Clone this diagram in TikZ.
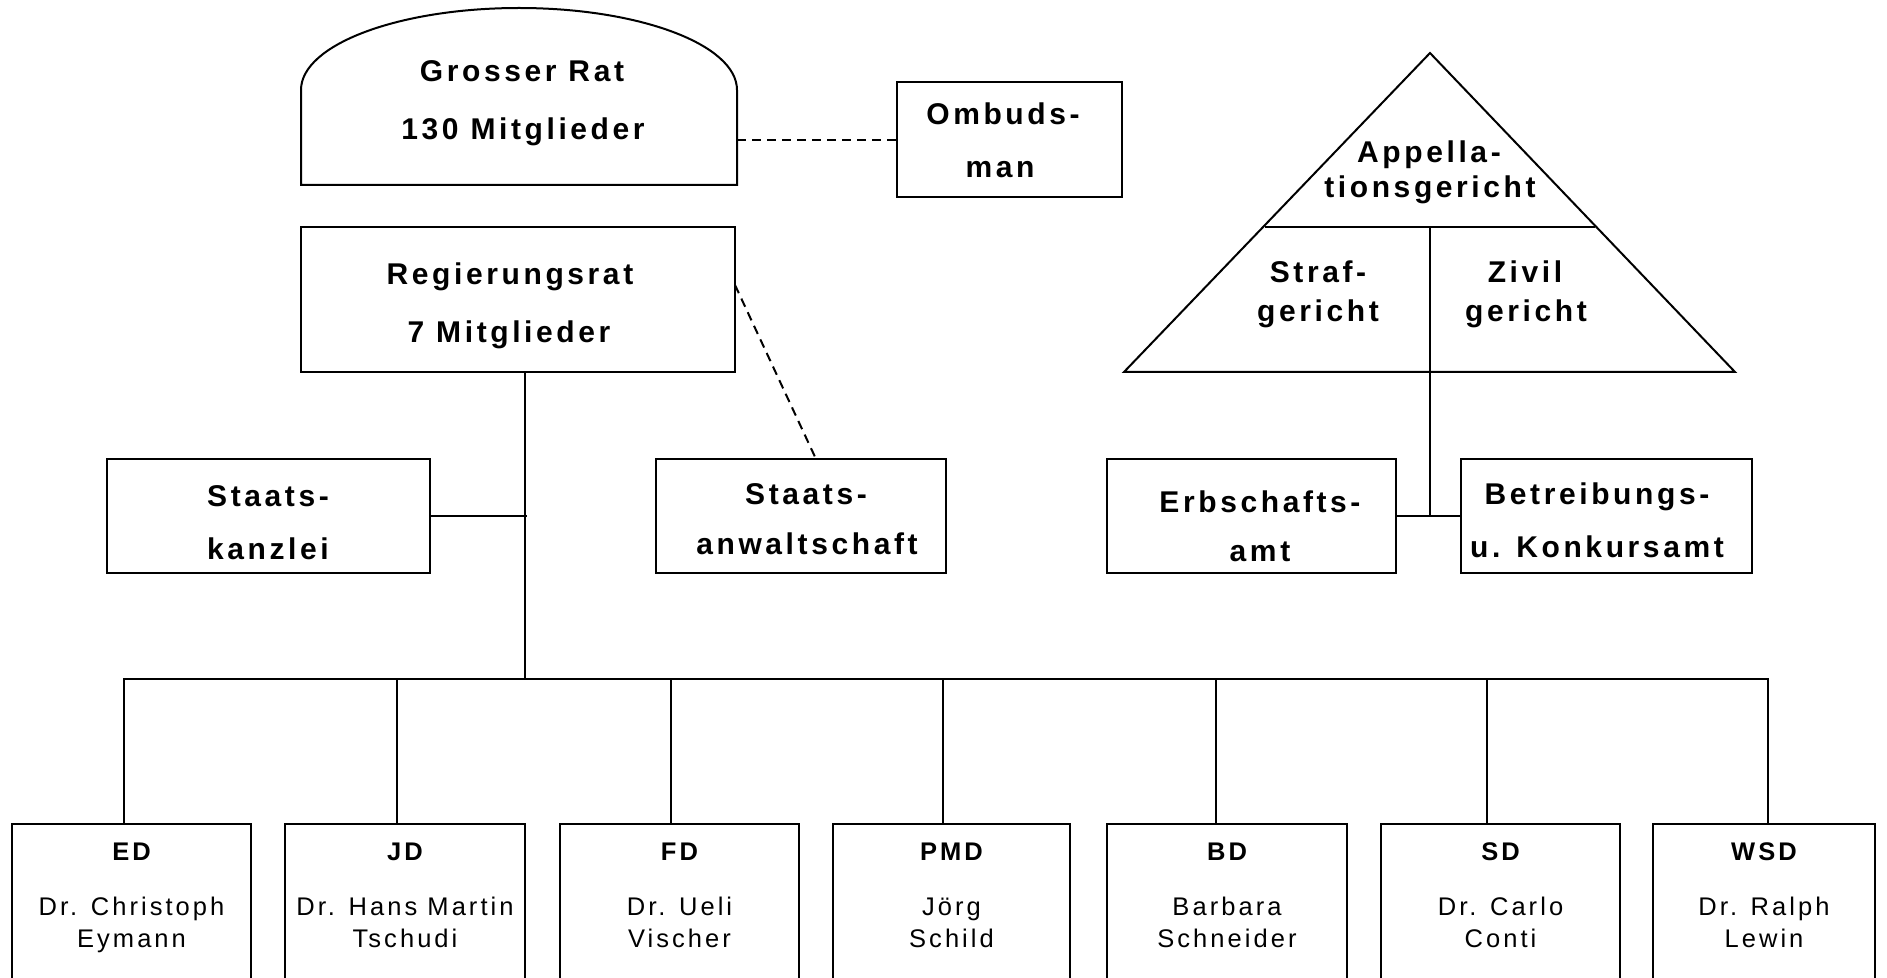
\documentclass[tikz,border=0pt]{standalone}
\usepackage{fontspec}
\setmainfont[LetterSpace=12]{Liberation Sans}
\begin{document}
\begin{tikzpicture}[x=0.5pt, y=-0.5pt,
  conn/.style={line width=1pt},
  dashln/.style={line width=1pt, dash pattern=on 4.5pt off 3pt},
  boxed/.style={draw, line width=1pt, inner sep=0pt},
  bigtxt/.style={font=\fontsize{15}{18}\selectfont\bfseries, inner sep=0pt, anchor=base},
  headtxt/.style={font=\fontsize{12.75}{15}\selectfont\bfseries, inner sep=0pt, anchor=base},
  nametxt/.style={font=\fontsize{12.75}{15}\selectfont, inner sep=0pt, anchor=base}]
\useasboundingbox (0,0) rectangle (1887,978);
\clip (0,0) rectangle (1887,978);

% Grosser Rat (arched shape)
\draw[conn] (301,185) -- (301,90) .. controls (301,44.7) and (398.6,8) .. (519,8)
  .. controls (639.4,8) and (737,44.7) .. (737,90) -- (737,185) -- cycle;
\coordinate (gr-east) at (737,140);
\node[bigtxt] (gr1) at (522,82) {Grosser Rat};
\node[bigtxt] (gr2) at (523,140) {130 Mitglieder};

% Ombudsman
\node[boxed, minimum width=112.5pt, minimum height=57.5pt] (ombud) at (1009.5,139.5) {};
\node[bigtxt] (om1) at (1003,125) {Ombuds-};
\node[bigtxt] (om2) at (1000,178) {man};
\draw[dashln] (gr-east) -- (gr-east -| ombud.west);

% Regierungsrat
\node[boxed, minimum width=217pt, minimum height=72.5pt] (regrat) at (518,299.5) {};
\node[bigtxt] (rr1) at (510,285) {Regierungsrat};
\node[bigtxt] (rr2) at (509,343) {7 Mitglieder};

% Staatskanzlei
\node[boxed, minimum width=161.5pt, minimum height=57pt] (kanzlei) at (268.5,516) {};
\node[bigtxt] (sk1) at (268,507) {Staats-};
\node[bigtxt] (sk2) at (268,560) {kanzlei};

% Staatsanwaltschaft
\node[boxed, minimum width=145pt, minimum height=57pt] (anwalt) at (801,516) {};
\node[bigtxt] (sa1) at (806,505) {Staats-};
\node[bigtxt] (sa2) at (807,555) {anwaltschaft};

% connectors Regierungsrat
\coordinate (rv-top) at (525,372);
\coordinate (rv-bot) at (525,679);
\coordinate (rv-mid) at (527,516);
\draw[conn] (rv-top) -- (rv-bot);
\draw[conn] (kanzlei.east) -- (rv-mid);
\coordinate (rd1) at (735,285);
\coordinate (rd2) at (816,459);
\draw[dashln] (rd1) -- (rd2);

% Triangle (courts)
\coordinate (apex) at (1430,53);
\coordinate (tl) at (1124,372);
\coordinate (tr) at (1735,372);
\draw[conn] (apex) -- (tl) -- (tr) -- cycle;
\coordinate (divl) at (1265,227);
\coordinate (divr) at (1595,227);
\coordinate (divm) at (1430,227);
\draw[conn] (divl) -- (divr);
\node[bigtxt] (ap1) at (1429,163) {Appella-};
\node[bigtxt] (ap2) at (1430,198) {tionsgericht};
\node[bigtxt] (sg1) at (1318,283) {Straf-};
\node[bigtxt] (sg2) at (1318,322) {gericht};
\node[bigtxt] (zg1) at (1525,283) {Zivil};
\node[bigtxt] (zg2) at (1526,322) {gericht};

% Erbschaftsamt and Betreibungsamt
\node[boxed, minimum width=144.5pt, minimum height=57pt] (erb) at (1251.5,516) {};
\node[bigtxt] (eb1) at (1260,513) {Erbschafts-};
\node[bigtxt] (eb2) at (1260,562) {amt};
\node[boxed, minimum width=145.5pt, minimum height=57pt] (betr) at (1606.5,516) {};
\node[bigtxt] (bt1) at (1597,505) {Betreibungs-};
\node[bigtxt] (bt2) at (1597,558) {u. Konkursamt};
\coordinate (cj) at (1430,516);
\draw[conn] (divm) -- (cj);
\draw[conn] (erb.east) -- (betr.west);

% Departments
\foreach \nm/\cx/\w/\hd/\la/\lb in {
  ed/131.5/119.5/ED/Dr. Christoph/Eymann,
  jd/405/120/JD/Dr. Hans Martin/Tschudi,
  fd/679.5/119.5/FD/Dr. Ueli/Vischer,
  pmd/951.5/118.5/PMD/Jörg/Schild,
  bd/1227/120/BD/Barbara/Schneider,
  sd/1500.5/119.5/SD/Dr. Carlo/Conti,
  wsd/1764/111/WSD/Dr. Ralph/Lewin}{
  \node[boxed, minimum width=\w pt, minimum height=88pt] (\nm) at (\cx,912) {};
  \node[headtxt] (\nm-h) at (\cx,860) {\hd};
  \node[nametxt] (\nm-a) at (\cx,915) {\la};
  \node[nametxt] (\nm-b) at (\cx,947) {\lb};
}

% bus
\coordinate (b-ed) at (124,679);
\coordinate (b-jd) at (397,679);
\coordinate (b-fd) at (671,679);
\coordinate (b-pmd) at (943,679);
\coordinate (b-bd) at (1216,679);
\coordinate (b-sd) at (1487,679);
\coordinate (b-wsd) at (1768,679);
\draw[conn] (b-ed |- ed.north) -- (b-ed) -- (b-wsd) -- (b-wsd |- wsd.north);
\foreach \nm in {jd,fd,pmd,bd,sd}{
  \draw[conn] (b-\nm) -- (b-\nm |- \nm.north);
}
\end{tikzpicture}
\end{document}
